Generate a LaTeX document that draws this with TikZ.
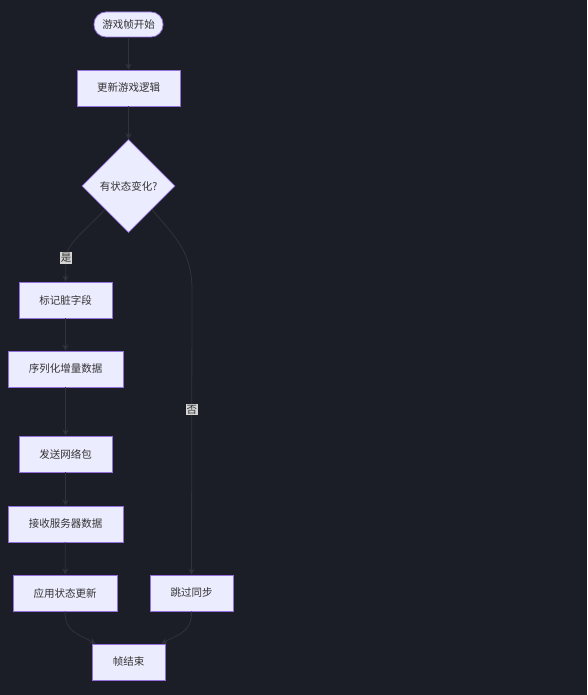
\documentclass[tikz,border=0pt]{standalone}
\usepackage{fontspec}
\setmainfont{Noto Sans CJK SC}
\usetikzlibrary{shapes.geometric, arrows.meta, positioning, calc}

\definecolor{fondo}{HTML}{1B1E27}
\definecolor{relleno}{HTML}{ECECFF}
\definecolor{borde}{HTML}{9370DB}
\definecolor{linea}{HTML}{30333C}
\definecolor{etiq}{HTML}{D4D4D4}
\definecolor{texto}{HTML}{333333}

\begin{document}
\begin{tikzpicture}[
		x=1pt, y=-1pt,
		% Estilos de los nodos del diagrama de flujo
		block/.style = {draw=borde, fill=relleno, rectangle, minimum height=36pt, text=texto, font=\fontsize{10.5}{12}\selectfont, line width=0.8pt},
		start_block/.style = {draw=borde, fill=relleno, rectangle, rounded corners=12pt, minimum height=25pt, minimum width=69pt, text=texto, font=\fontsize{10.5}{12}\selectfont, line width=0.8pt},
		decision/.style = {draw=borde, fill=relleno, diamond, aspect=1, minimum width=93pt, minimum height=93pt, inner sep=0pt, text=texto, font=\fontsize{10.5}{12}\selectfont, line width=0.8pt},
		edge_lbl/.style = {fill=etiq, text=texto, inner sep=1pt, font=\fontsize{10.5}{12}\selectfont},
		flow/.style = {draw=linea, line width=0.8pt, -{Stealth[length=6pt, width=6pt]}},
		]
		
		% --- FONDO ---
		\fill [fondo] (0,0) rectangle (587,695);
		\useasboundingbox (0,0) rectangle (587,695);
		
		% --- NODOS ---
		\node [start_block] (inicio) at (128.5,24.5) {游戏帧开始};
		\node [block, minimum width=103pt] (logica) at (128.5,88) {更新游戏逻辑};
		\node [decision] (cambio) at (128.5,186) {有状态变化?};
		
		% Rama "是"
		\node [block, minimum width=93pt] (sucio) at (65.5,300) {标记脏字段};
		\node [block, minimum width=115pt] (serial) at (65.5,369) {序列化增量数据};
		\node [block, minimum width=93pt] (envio) at (65.5,454) {发送网络包};
		\node [block, minimum width=115pt] (recibo) at (65.5,524) {接收服务器数据};
		\node [block, minimum width=104pt] (aplicar) at (65,593) {应用状态更新};
		
		% Rama "否"
		\node [block, minimum width=83pt] (saltar) at (191.5,593) {跳过同步};
		
		% Fin
		\node [block, minimum width=73pt] (fin) at (128.5,662) {帧结束};
		
		% --- CONEXIONES ---
		\draw [flow] (inicio) -- (logica);
		\draw [flow] (logica) -- (cambio);
		\draw [flow] (cambio.south west) .. controls (86,230) and (66,244) .. (66,258) -- node[edge_lbl, pos=0] {是} (sucio.north);
		\draw [flow] (cambio.south east) .. controls (176,238) and (192,252) .. (192,290) -- node[edge_lbl, pos=0.42] {否} (saltar.north);
		\draw [flow] (sucio) -- (serial);
		\draw [flow] (serial) -- (envio);
		\draw [flow] (envio) -- (recibo);
		\draw [flow] (recibo) -- (aplicar);
		\draw [flow] (aplicar.south) .. controls (65,632) and (78,634) .. ($(fin.north west)+(4,0)$);
		\draw [flow] (saltar.south) .. controls (192,632) and (179,634) .. ($(fin.north east)+(-4,0)$);
		
	\end{tikzpicture}
\end{document}
